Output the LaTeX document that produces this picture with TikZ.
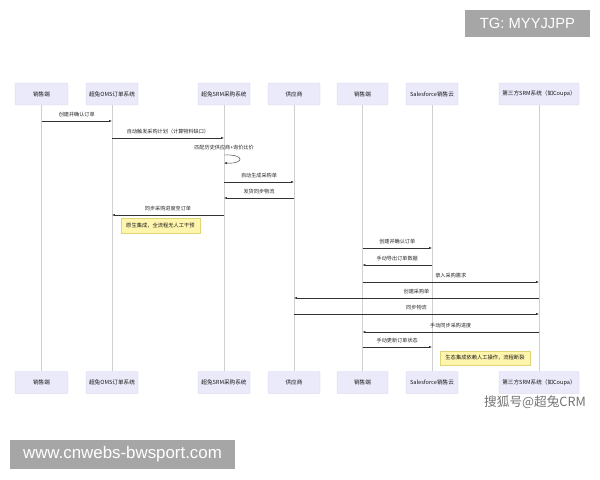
\documentclass[tikz,border=0pt]{standalone}
\usepackage{fontspec}
\setmainfont{Noto Sans CJK SC}
\newfontfamily\wmfont{Liberation Sans}
\usetikzlibrary{arrows.meta}
\definecolor{actorfill}{RGB}{234,234,250}
\definecolor{actorline}{RGB}{210,210,232}
\definecolor{lifecol}{RGB}{208,208,208}
\definecolor{notefill}{RGB}{255,245,173}
\definecolor{noteline}{RGB}{222,212,120}
\definecolor{wmgray}{RGB}{166,166,166}
\begin{document}
\begin{tikzpicture}[x=0.05cm,y=-0.05cm,
  actor/.style={draw=actorline,fill=actorfill,rounded corners=1pt,minimum height=1.1cm,inner sep=0pt,text=black!90,font=\fontsize{8}{9}\selectfont},
  life/.style={draw=lifecol,line width=0.6pt},
  msg/.style={draw=black!80,line width=0.6pt,-{Latex[length=4pt,width=3pt]}},
  lbl/.style={font=\fontsize{7.3}{8}\selectfont,text=black!85,inner sep=0pt},
  note/.style={draw=noteline,fill=notefill,inner sep=0pt,font=\fontsize{7.5}{8}\selectfont,text=black!90}]
\useasboundingbox (0,0) rectangle (600,480);
% Participants, top
\node[actor,minimum width=2.65cm] (sa1-t) at (41.5,94) {销售端};
\node[actor,minimum width=2.6cm] (oms-t) at (112,94) {超兔OMS订单系统};
\node[actor,minimum width=2.6cm] (srm-t) at (224,94) {超兔SRM采购系统};
\node[actor,minimum width=2.6cm] (sup-t) at (294,94) {供应商};
\node[actor,minimum width=2.55cm] (sa2-t) at (362.5,94) {销售端};
\node[actor,minimum width=2.6cm] (sf-t) at (432,94) {Salesforce销售云};
\node[actor,minimum width=4cm] (tp-t) at (539,94) {第三方SRM系统（如Coupa）};
% Participants, bottom
\node[actor,minimum width=2.65cm] (sa1-b) at (41.5,382.5) {销售端};
\node[actor,minimum width=2.6cm] (oms-b) at (112,382.5) {超兔OMS订单系统};
\node[actor,minimum width=2.6cm] (srm-b) at (224,382.5) {超兔SRM采购系统};
\node[actor,minimum width=2.6cm] (sup-b) at (294,382.5) {供应商};
\node[actor,minimum width=2.55cm] (sa2-b) at (362.5,382.5) {销售端};
\node[actor,minimum width=2.6cm] (sf-b) at (432,382.5) {Salesforce销售云};
\node[actor,minimum width=4cm] (tp-b) at (539,382.5) {第三方SRM系统（如Coupa）};
% Lifelines
\foreach \p in {sa1,oms,srm,sup,sa2,sf,tp}
  \draw[life] (\p-t) -- (\p-b);
% Rows
\coordinate (r1) at (0,121);
\coordinate (r2) at (0,138);
\coordinate (l3) at (0,148);
\coordinate (s1) at (0,155);
\coordinate (s2) at (0,163);
\coordinate (r4) at (0,182);
\coordinate (r5) at (0,198);
\coordinate (r6) at (0,215);
\coordinate (r7) at (0,248);
\coordinate (r8) at (0,265);
\coordinate (r9) at (0,282);
\coordinate (r10) at (0,298);
\coordinate (r11) at (0,314);
\coordinate (r12) at (0,332);
\coordinate (r13) at (0,347);
% Native integration
\draw[msg] (sa1-t |- r1) -- node[lbl,above=5pt] {创建并确认订单} (oms-t |- r1);
\draw[msg] (oms-t |- r2) -- node[lbl,above=5pt] {自动触发采购计划（计算物料缺口）} (srm-t |- r2);
\node[lbl] (loop) at (srm-t |- l3) {匹配历史供应商+询价比价};
\draw[msg] (srm-t |- s1) .. controls +(21,-1) and +(21,1) .. (srm-t |- s2);
\draw[msg] (srm-t |- r4) -- node[lbl,above=5pt] {自动生成采购单} (sup-t |- r4);
\draw[msg] (sup-t |- r5) -- node[lbl,above=5pt] {发货同步物流} (srm-t |- r5);
\draw[msg] (srm-t |- r6) -- node[lbl,above=5pt] {同步采购进度至订单} (oms-t |- r6);
\node[note,minimum width=3.95cm,minimum height=0.75cm] (n1) at (160.5,225.5) {原生集成，全流程无人工干预};
% Ecosystem integration
\draw[msg] (sa2-t |- r7) -- node[lbl,above=5pt] {创建并确认订单} (sf-t |- r7);
\draw[msg] (sf-t |- r8) -- node[lbl,above=5pt] {手动导出订单数据} (sa2-t |- r8);
\draw[msg] (sa2-t |- r9) -- node[lbl,above=5pt] {录入采购需求} (tp-t |- r9);
\draw[msg] (tp-t |- r10) -- node[lbl,above=5pt] {创建采购单} (sup-t |- r10);
\draw[msg] (sup-t |- r11) -- node[lbl,above=5pt] {同步物流} (tp-t |- r11);
\draw[msg] (tp-t |- r12) -- node[lbl,above=5pt] {手动同步采购进度} (sa2-t |- r12);
\draw[msg] (sa2-t |- r13) -- node[lbl,above=5pt] {手动更新订单状态} (sf-t |- r13);
\node[note,minimum width=4.5cm,minimum height=0.7cm] (n2) at (485,358) {生态集成依赖人工操作，流程断裂};
% Watermarks
\node[fill=wmgray,minimum width=6.25cm,minimum height=1.35cm,text=white,font=\wmfont\fontsize{21}{24}\selectfont] (tg) at (527.5,23.5) {TG: MYYJJPP};
\node[fill=wmgray,minimum width=11.25cm,minimum height=1.45cm,text=white,font=\wmfont\fontsize{24}{28}\selectfont] (www) at (122.5,454.5) {www.cnwebs-bwsport.com};
\node[text=black!55,font=\fontsize{18}{20}\selectfont] (sohu) at (535,402) {搜狐号@超兔CRM};
\end{tikzpicture}
\end{document}
